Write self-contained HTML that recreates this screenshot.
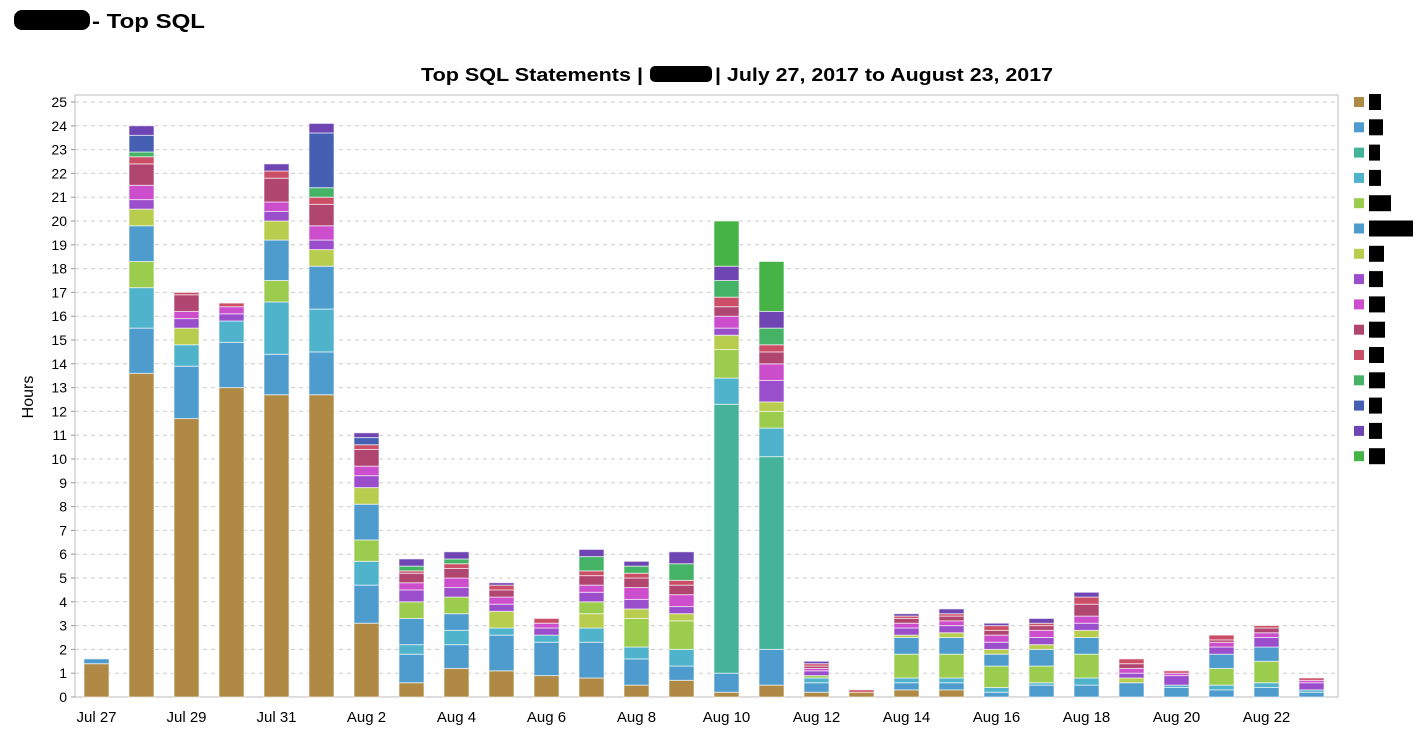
<!DOCTYPE html>
<html><head><meta charset="utf-8"><style>
body{margin:0;background:#fff;width:1420px;height:740px;overflow:hidden;font-family:"Liberation Sans",sans-serif}
</style></head><body>
<svg id="s" width="1420" height="740" xmlns="http://www.w3.org/2000/svg" font-family="Liberation Sans, sans-serif">
<rect x="14" y="10" width="76" height="20" rx="8" fill="#000"/>
<text x="92" y="28" font-size="20" font-weight="bold" textLength="113" lengthAdjust="spacingAndGlyphs">- Top SQL</text>
<text x="421" y="81" font-size="18" font-weight="bold" textLength="222" lengthAdjust="spacingAndGlyphs">Top SQL Statements |</text>
<rect x="650" y="66" width="62" height="16" rx="5" fill="#000"/>
<text x="715" y="81" font-size="18" font-weight="bold" textLength="338" lengthAdjust="spacingAndGlyphs">| July 27, 2017 to August 23, 2017</text>
<text x="33" y="397" font-size="16" transform="rotate(-90 33 397)" text-anchor="middle">Hours</text>
<g id="g"></g>
</svg>
<script>
const C=["#b08a45","#4e9bce","#45b39a","#4fb3cc","#9ccc4e","#4e9bce","#b8cc4e","#9b4ecc","#cc4ecc","#b04570","#cc4e66","#45b366","#4560b3","#6e45b3","#45b345"];
const D=[
[[0,1.4],[1,1.6]],
[[0,13.6],[1,15.5],[3,17.2],[4,18.3],[5,19.8],[6,20.5],[7,20.9],[8,21.5],[9,22.4],[10,22.7],[11,22.9],[12,23.6],[13,24]],
[[0,11.7],[1,13.9],[3,14.8],[6,15.5],[7,15.9],[8,16.2],[9,16.9],[10,17.0]],
[[0,13],[1,14.9],[3,15.8],[7,16.1],[8,16.4],[10,16.55]],
[[0,12.7],[1,14.4],[3,16.6],[4,17.5],[5,19.2],[6,20],[7,20.4],[8,20.8],[9,21.8],[10,22.1],[13,22.4]],
[[0,12.7],[1,14.5],[3,16.3],[5,18.1],[6,18.8],[7,19.2],[8,19.8],[9,20.7],[10,21.0],[11,21.4],[12,23.7],[13,24.1]],
[[0,3.1],[1,4.7],[3,5.7],[4,6.6],[5,8.1],[6,8.8],[7,9.3],[8,9.7],[9,10.4],[10,10.6],[12,10.9],[13,11.1]],
[[0,0.6],[1,1.8],[3,2.2],[5,3.3],[4,4.0],[7,4.5],[8,4.8],[9,5.2],[10,5.3],[11,5.5],[13,5.8]],
[[0,1.2],[1,2.2],[3,2.8],[5,3.5],[4,4.2],[7,4.6],[8,5.0],[9,5.4],[10,5.6],[11,5.8],[13,6.1]],
[[0,1.1],[1,2.6],[3,2.9],[6,3.6],[7,3.9],[8,4.2],[9,4.5],[10,4.7],[13,4.8]],
[[0,0.9],[1,2.3],[3,2.6],[7,2.9],[8,3.1],[10,3.3]],
[[0,0.8],[1,2.3],[3,2.9],[6,3.5],[4,4.0],[7,4.4],[8,4.7],[9,5.1],[10,5.3],[11,5.9],[13,6.2]],
[[0,0.5],[1,1.6],[3,2.1],[4,3.3],[6,3.7],[7,4.1],[8,4.6],[9,5.0],[10,5.2],[11,5.5],[13,5.7]],
[[0,0.7],[1,1.3],[3,2.0],[4,3.2],[6,3.5],[7,3.8],[8,4.3],[9,4.7],[10,4.9],[11,5.6],[13,6.1]],
[[0,0.2],[1,1.0],[2,12.3],[3,13.4],[4,14.6],[6,15.2],[7,15.5],[8,16.0],[9,16.4],[10,16.8],[11,17.5],[13,18.1],[14,20.0]],
[[0,0.5],[1,2.0],[2,10.1],[3,11.3],[4,12.0],[6,12.4],[7,13.3],[8,14.0],[9,14.5],[10,14.8],[11,15.5],[13,16.2],[14,18.3]],
[[0,0.2],[1,0.6],[3,0.8],[4,0.9],[7,1.1],[8,1.2],[9,1.3],[10,1.4],[13,1.5]],
[[0,0.2],[10,0.3]],
[[0,0.3],[1,0.6],[3,0.8],[4,1.8],[5,2.5],[6,2.6],[7,2.9],[8,3.1],[9,3.3],[10,3.4],[13,3.5]],
[[0,0.3],[1,0.6],[3,0.8],[4,1.8],[5,2.5],[6,2.7],[7,3.0],[8,3.2],[9,3.4],[10,3.5],[13,3.7]],
[[1,0.2],[3,0.4],[4,1.3],[5,1.8],[6,2.0],[7,2.3],[8,2.6],[9,2.8],[10,3.0],[13,3.1]],
[[1,0.5],[3,0.6],[4,1.3],[5,2.0],[6,2.2],[7,2.5],[8,2.8],[9,3.0],[10,3.1],[13,3.3]],
[[1,0.5],[3,0.8],[4,1.8],[5,2.5],[6,2.8],[7,3.1],[8,3.4],[9,3.9],[10,4.2],[13,4.4]],
[[1,0.6],[6,0.8],[7,1.0],[8,1.2],[9,1.4],[10,1.6]],
[[1,0.4],[3,0.5],[7,0.9],[8,1.0],[10,1.1]],
[[1,0.3],[3,0.5],[4,1.2],[5,1.8],[7,2.1],[8,2.3],[9,2.4],[10,2.6]],
[[1,0.4],[3,0.6],[4,1.5],[5,2.1],[7,2.5],[8,2.7],[9,2.9],[10,3.0]],
[[1,0.2],[3,0.3],[7,0.6],[8,0.7],[10,0.8]]];
const L=75,R=1338,T=95,B=697,U=23.8;
let h='';
h+=`<rect x="${L}" y="${T}" width="${R-L}" height="${B-T}" fill="none" stroke="#bbb"/>`;
for(let i=0;i<=25;i++){const y=B-i*U;
 if(i>0)h+=`<line x1="${L}" x2="${R}" y1="${y}" y2="${y}" stroke="#ccc" stroke-dasharray="4,4"/>`;
 h+=`<line x1="${L-4}" x2="${L}" y1="${y}" y2="${y}" stroke="#999"/><text x="${L-8}" y="${y+5}" font-size="14" text-anchor="end">${i}</text>`;}
const lab=["Jul 27","Jul 29","Jul 31","Aug 2","Aug 4","Aug 6","Aug 8","Aug 10","Aug 12","Aug 14","Aug 16","Aug 18","Aug 20","Aug 22"];
D.forEach((b,i)=>{const cx=96.5+i*45;let prev=0;
 b.forEach(([s,t])=>{const y1=B-t*U,y0=B-prev*U;h+=`<rect x="${cx-12.5}" y="${y1}" width="25" height="${y0-y1}" fill="${C[s]}" stroke="#fff" stroke-opacity="0.6" stroke-width="1"/>`;prev=t;});
 if(i%2==0)h+=`<text x="${cx}" y="722" font-size="15" text-anchor="middle">${lab[i/2]}</text>`;});
const lw=[12,14,11,12,22,44,15,14,16,16,15,16,13,13,16];
C.forEach((c,i)=>{const y=102+i*25.3;h+=`<rect x="1354" y="${y-5}" width="10" height="10" fill="${c}"/><rect x="1369" y="${y-8}" width="${lw[i]}" height="16" fill="#000"/>`;});
document.getElementById('g').innerHTML=h;
</script>
</body></html>
